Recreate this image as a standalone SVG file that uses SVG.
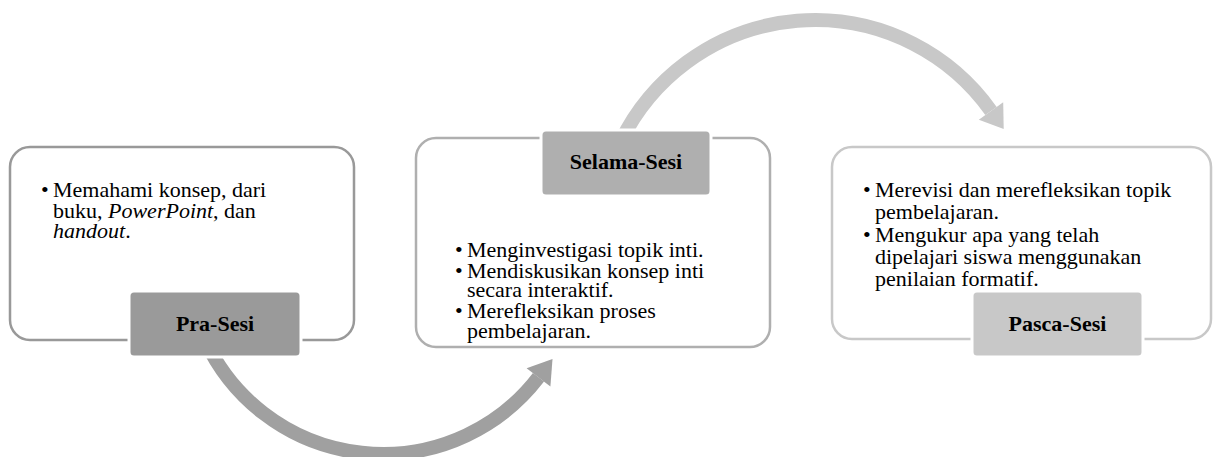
<svg xmlns="http://www.w3.org/2000/svg" width="1213" height="457" viewBox="0 0 1213 457">
<style>
.box{fill:#fff;stroke-width:2.5}
.lbl{stroke:#fff;stroke-width:3}
.t{font-family:"Liberation Serif","Times New Roman",serif;font-size:22px;fill:#000}
.h{font-family:"Liberation Serif","Times New Roman",serif;font-size:22px;font-weight:bold;text-anchor:middle;fill:#000}
.arc{fill:none;stroke-width:14}
</style>
<rect width="1213" height="457" fill="#fff"/>
<g id="connectors">
  <path class="arc" stroke="#a0a0a0" d="M 205.4 340.8 A 196 196 0 0 0 538.5 377.3"/>
  <polygon fill="#a0a0a0" points="550.4,386.4 526.6,368.2 552.5,359.1"/>
  <path class="arc" stroke="#c8c8c8" d="M 620.8 141.4 A 216 216 0 0 1 991 111"/>
  <polygon fill="#c8c8c8" points="1003.2,102.3 978.8,119.7 1003.7,128.9"/>
</g>
<g id="pra-sesi">
  <rect class="box" x="10" y="147" width="344" height="193" rx="20" stroke="#999999"/>
  <text class="t" x="41" y="197">•</text>
  <text class="t" x="53" y="197">Memahami konsep, dari</text>
  <text class="t" x="53" y="217.5">buku, <tspan font-style="italic">PowerPoint</tspan>, dan</text>
  <text class="t" x="53" y="238"><tspan font-style="italic">handout</tspan>.</text>
  <rect class="lbl" x="129" y="291" width="172" height="66" rx="5" fill="#9a9a9a"/>
  <text class="h" x="215" y="331">Pra-Sesi</text>
</g>
<g id="selama-sesi">
  <rect class="box" x="416" y="138" width="354" height="209" rx="20" stroke="#afafaf"/>
  <text class="t" x="455" y="257">•</text>
  <text class="t" x="467" y="257">Menginvestigasi topik inti.</text>
  <text class="t" x="455" y="277.5">•</text>
  <text class="t" x="467" y="277.5">Mendiskusikan konsep inti</text>
  <text class="t" x="467" y="297">secara interaktif.</text>
  <text class="t" x="455" y="318">•</text>
  <text class="t" x="467" y="318">Merefleksikan proses</text>
  <text class="t" x="467" y="337.5">pembelajaran.</text>
  <rect class="lbl" x="541" y="130" width="170" height="66" rx="5" fill="#afafaf"/>
  <text class="h" x="626" y="169">Selama-Sesi</text>
</g>
<g id="pasca-sesi">
  <rect class="box" x="832" y="147" width="379" height="192" rx="20" stroke="#c8c8c8"/>
  <text class="t" x="863" y="197">•</text>
  <text class="t" x="875" y="197">Merevisi dan merefleksikan topik</text>
  <text class="t" x="875" y="219">pembelajaran.</text>
  <text class="t" x="863" y="242">•</text>
  <text class="t" x="875" y="242">Mengukur apa yang telah</text>
  <text class="t" x="875" y="264">dipelajari siswa menggunakan</text>
  <text class="t" x="875" y="286">penilaian formatif.</text>
  <rect class="lbl" x="972" y="291" width="171" height="66" rx="5" fill="#c8c8c8"/>
  <text class="h" x="1057.5" y="331">Pasca-Sesi</text>
</g>
</svg>
